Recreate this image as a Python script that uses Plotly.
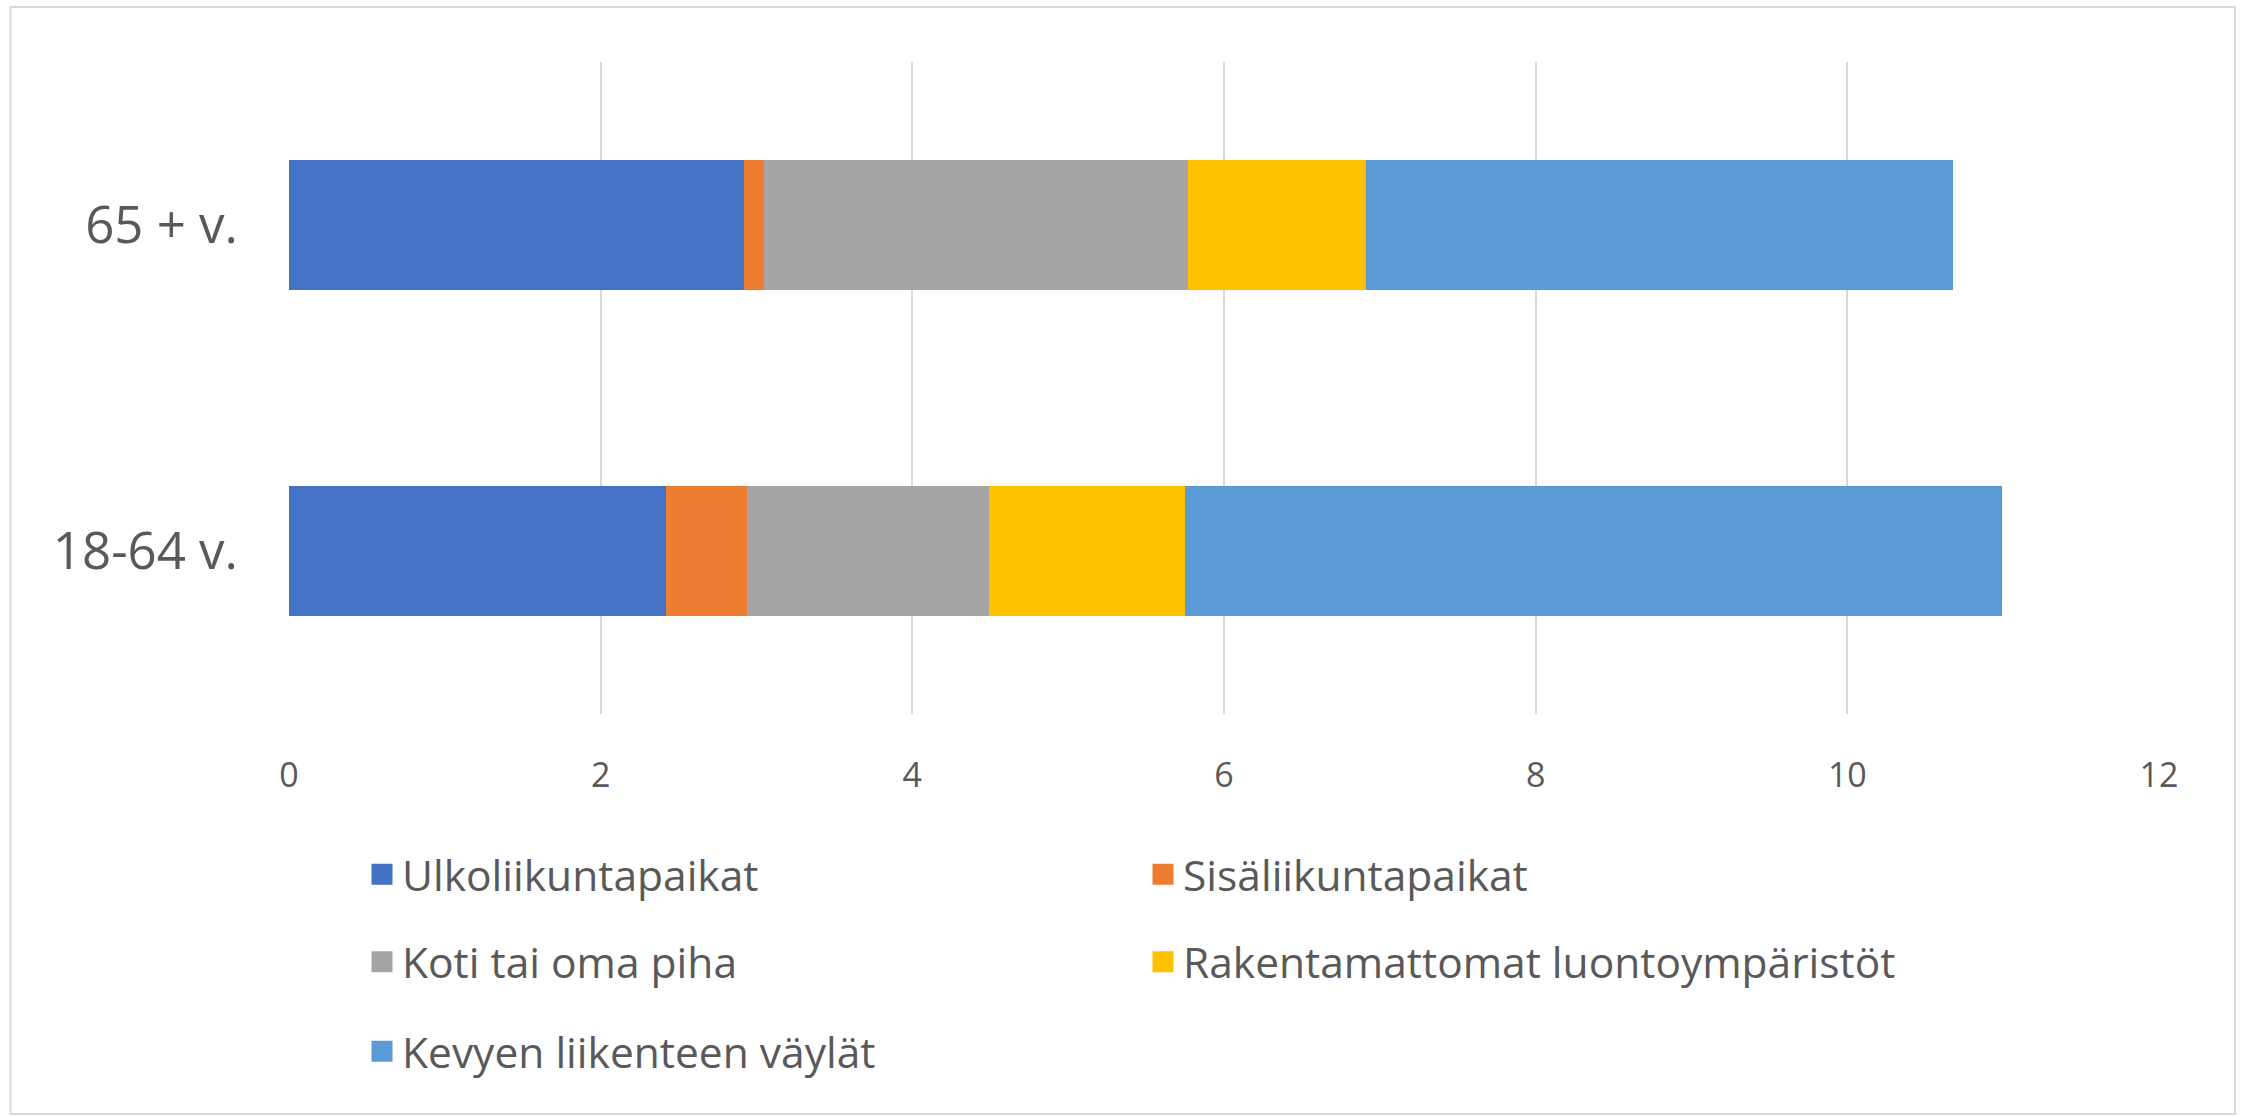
import plotly.graph_objects as go

categories = ["18-64 v.", "65 + v."]
series_names = [
    "Ulkoliikuntapaikat",
    "Sisäliikuntapaikat",
    "Koti tai oma piha",
    "Rakentamattomat luontoympäristöt",
    "Kevyen liikenteen väylät",
]
ulkoliikuntapaikat = [2.42, 2.92]
sisaliikuntapaikat = [0.52, 0.13]
koti_tai_oma_piha = [1.55, 2.72]
rakentamattomat = [1.26, 1.14]
kevyen_liikenteen = [5.24, 3.77]
x_ticks = [0, 2, 4, 6, 8, 10, 12]

series_values = [ulkoliikuntapaikat, sisaliikuntapaikat, koti_tai_oma_piha,
                 rakentamattomat, kevyen_liikenteen]
colors = ["#4472C4", "#ED7D31", "#A5A5A5", "#FFC000", "#5B9BD5"]
legend_ids = ["legend", "legend", "legend2", "legend2", "legend3"]

W, H = 2247, 1117
L, R, T, B = 289.4, 2159.0, 62.0, 714.0
FONT = "Open Sans, Noto Sans, sans-serif"
TXT = "#595959"

fig = go.Figure()
for name, vals, col in zip(series_names, series_values, colors):
    fig.add_trace(go.Bar(
        y=categories, x=vals, name=name, orientation="h",
        marker=dict(color=col, line=dict(width=0)),
        showlegend=False,
    ))
# legend entries
for name, col, lg in zip(series_names, colors, legend_ids):
    fig.add_trace(go.Scatter(
        x=[None], y=[None], mode="markers", name=name, legend=lg,
        marker=dict(symbol="square", size=16, color=col,
                    line=dict(color=col, width=5)),
        showlegend=True,
    ))

def px2paper_x(px):
    return (px - L) / (R - L)

def px2paper_y(py):
    return (B - py) / (B - T)

row_y = [874.5, 962.0, 1051.5]
leg_x = (367 - 5) / W
legend_common = dict(
    orientation="h", xref="container", yref="container",
    x=leg_x, xanchor="left", yanchor="middle", traceorder="normal",
    font=dict(family=FONT, size=42.5, color=TXT),
    entrywidth=736, entrywidthmode="pixels",
    bgcolor="rgba(0,0,0,0)", itemclick=False, itemdoubleclick=False,
)

fig.update_layout(
    width=W, height=H, autosize=False,
    margin=dict(l=L, r=W - R, t=T, b=H - B, pad=0),
    barmode="stack", bargap=0.6,
    plot_bgcolor="white", paper_bgcolor="white",
    font=dict(family=FONT, color=TXT),
    legend=dict(legend_common, y=1 - row_y[0] / H),
    legend2=dict(legend_common, y=1 - row_y[1] / H),
    legend3=dict(legend_common, y=1 - row_y[2] / H),
    xaxis=dict(
        range=[0, 12], tickvals=x_ticks, ticktext=[str(t) for t in x_ticks],
        showgrid=True, gridcolor="#d9d9d9", gridwidth=2,
        zeroline=False, showline=False, ticks="",
        tickfont=dict(family=FONT, size=34, color=TXT),
        ticklabelstandoff=38,
        fixedrange=True,
    ),
    yaxis=dict(
        type="category", categoryorder="array", categoryarray=categories,
        showgrid=False, zeroline=False, showline=False, ticks="",
        tickfont=dict(family=FONT, size=51, color=TXT),
        ticklabelstandoff=50,
        fixedrange=True,
    ),
    shapes=[dict(
        type="rect", xref="paper", yref="paper",
        x0=px2paper_x(11), x1=px2paper_x(2235),
        y0=px2paper_y(1114), y1=px2paper_y(7),
        line=dict(color="#d9d9d9", width=2), fillcolor="rgba(0,0,0,0)",
        layer="below",
    )],
)

fig.write_html("out.html", config={"displayModeBar": False},
               post_script="document.body.style.margin='0';document.body.style.overflow='hidden';")
